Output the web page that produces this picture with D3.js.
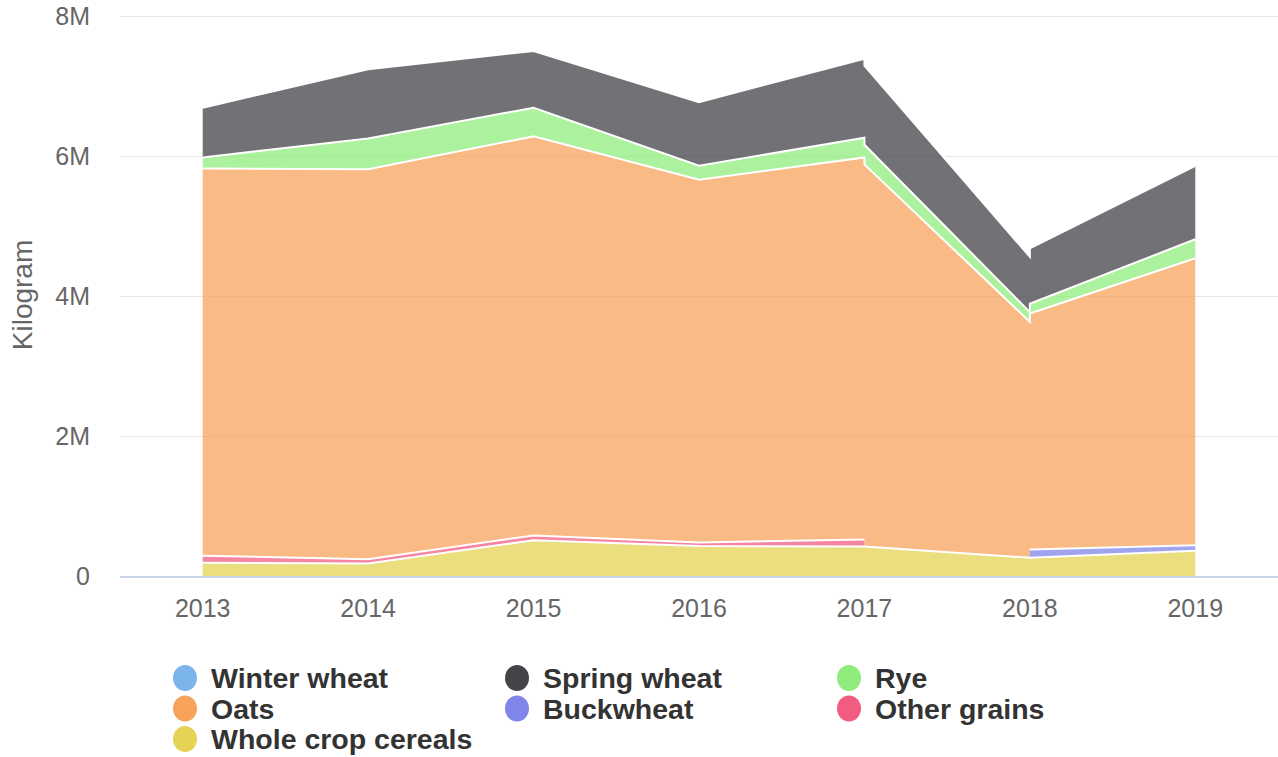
<!DOCTYPE html>
<html>
<head>
<meta charset="utf-8">
<script src="https://cdn.jsdelivr.net/npm/d3@7"></script>
<style>
  body { margin: 0; background: #fff; }
  svg { display: block; font-family: "Liberation Sans", Arial, sans-serif; }
</style>
</head>
<body>
<script>
// Data (kilograms, null = no value that year)
const years = ['2013', '2014', '2015', '2016', '2017', '2018', '2019'];
const winterWheat = [null, null, null, null, null, null, null];
const springWheat = [710000, 990000, 810000, 910000, 1130000, 790000, 1050000];
const rye = [160000, 440000, 410000, 200000, 280000, 140000, 270000];
const oats = [5530000, 5570000, 5700000, 5180000, 5460000, 3370000, 4100000];
const buckwheat = [null, null, null, null, null, 120000, 80000];
const otherGrains = [100000, 60000, 70000, 50000, 100000, null, null];
const wholeCrop = [190000, 180000, 510000, 430000, 420000, 260000, 360000];
const yTicks = [0, 2000000, 4000000, 6000000, 8000000];

const names = ['Winter wheat', 'Spring wheat', 'Rye', 'Oats', 'Buckwheat', 'Other grains', 'Whole crop cereals'];
const colors = ['#7cb5ec', '#434348', '#90ed7d', '#f7a35c', '#8085e9', '#f15c80', '#e4d354'];
const values = [winterWheat, springWheat, rye, oats, buckwheat, otherGrains, wholeCrop];

const W = 1278, H = 757;
const plot = { left: 120, right: 1278, top: 16, bottom: 576 };

const svg = d3.select('body').append('svg').attr('width', W).attr('height', H);

const x = d3.scalePoint().domain(years).range([plot.left, plot.right]).padding(0.5);
const y = d3.scaleLinear().domain([0, 8000000]).range([plot.bottom, plot.top]);

// grid lines
svg.append('g').selectAll('line')
  .data(yTicks.filter(d => d > 0))
  .enter().append('line')
  .attr('x1', plot.left).attr('x2', plot.right)
  .attr('y1', d => Math.round(y(d)) + 0.5).attr('y2', d => Math.round(y(d)) + 0.5)
  .attr('stroke', '#e6e6e6');

// y labels
svg.append('g').selectAll('text')
  .data(yTicks)
  .enter().append('text')
  .attr('x', 90).attr('y', d => y(d) + 9)
  .attr('text-anchor', 'end')
  .attr('fill', '#666')
  .style('font-size', '25px')
  .text(d => d === 0 ? '0' : (d / 1e6) + 'M');

// axis title
svg.append('text')
  .attr('transform', 'translate(32,295) rotate(-90)')
  .attr('text-anchor', 'middle')
  .attr('fill', '#666')
  .style('font-size', '28px')
  .text('Kilogram');

// x labels
svg.append('g').selectAll('text')
  .data(years)
  .enter().append('text')
  .attr('x', d => x(d)).attr('y', 617)
  .attr('text-anchor', 'middle')
  .attr('fill', '#666')
  .style('font-size', '25px')
  .text(d => d);

// stacking like the original: series with index below k sit under it (last series at bottom).
// A segment i -> i+1 only counts lower series that have values at both ends.
function segmentsFor(k) {
  const segs = [];
  for (let i = 0; i < years.length - 1; i++) {
    if (values[k][i] == null || values[k][i + 1] == null) continue;
    let b0 = 0, b1 = 0;
    for (let j = k + 1; j < values.length; j++) {
      if (values[j][i] != null && values[j][i + 1] != null) {
        b0 += values[j][i];
        b1 += values[j][i + 1];
      }
    }
    segs.push({ i: i, b0: b0, b1: b1, t0: b0 + values[k][i], t1: b1 + values[k][i + 1] });
  }
  // group into continuous runs
  const runs = [];
  segs.forEach(s => {
    const last = runs[runs.length - 1];
    if (last && last[last.length - 1].i === s.i - 1) last.push(s);
    else runs.push([s]);
  });
  return runs.map(run => {
    const pts = [];
    run.forEach(s => {
      pts.push({ x: x(years[s.i]), y0: s.b0, y1: s.t0 });
      pts.push({ x: x(years[s.i + 1]), y0: s.b1, y1: s.t1 });
    });
    return pts;
  });
}

const area = d3.area().x(d => d.x).y0(d => y(d.y0)).y1(d => y(d.y1));
const topLine = d3.line().x(d => d.x).y(d => y(d.y1));

values.forEach((v, k) => {
  const g = svg.append('g');
  segmentsFor(k).forEach(pts => {
    g.append('path')
      .attr('d', area(pts))
      .attr('fill', colors[k])
      .attr('fill-opacity', 0.75);
    g.append('path')
      .attr('d', topLine(pts))
      .attr('fill', 'none')
      .attr('stroke', '#fff')
      .attr('stroke-width', 2);
  });
});

// bottom axis line
svg.append('line')
  .attr('x1', plot.left).attr('x2', plot.right)
  .attr('y1', plot.bottom + 1).attr('y2', plot.bottom + 1)
  .attr('stroke', '#ccd6eb').attr('stroke-width', 2);

// legend
const legend = svg.append('g');
names.forEach((name, k) => {
  const col = k % 3, row = Math.floor(k / 3);
  const gx = 185 + col * 332, gy = 678 + row * 30.5;
  legend.append('ellipse')
    .attr('cx', gx).attr('cy', gy).attr('rx', 12).attr('ry', 13)
    .attr('fill', colors[k]);
  legend.append('text')
    .attr('x', gx + 26).attr('y', gy + 10)
    .attr('fill', '#333')
    .style('font-size', '28.5px')
    .style('font-weight', 'bold')
    .text(name);
});
</script>
</body>
</html>
